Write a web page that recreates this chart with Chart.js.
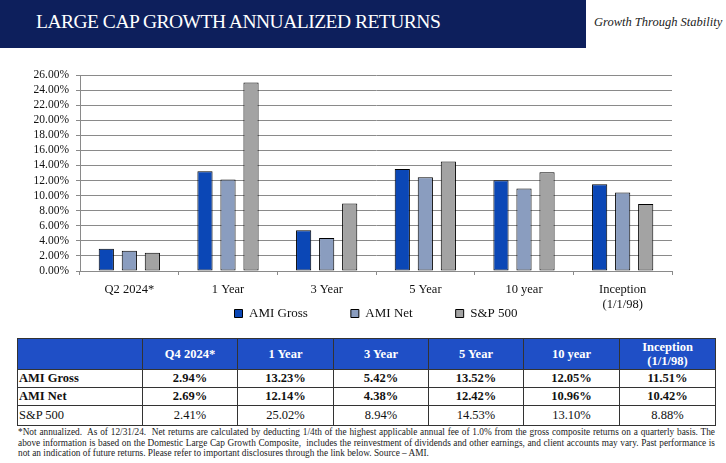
<!DOCTYPE html>
<html><head><meta charset="utf-8">
<script src="https://cdn.jsdelivr.net/npm/chart.js@4/dist/chart.umd.min.js"></script>
<style>
body{margin:0;width:726px;height:463px;background:#fff;position:relative;overflow:hidden;font-family:"Liberation Serif",serif;}
#hdr{position:absolute;left:0;top:0;width:586px;height:48px;background:#0d1f5c;}
#title{position:absolute;left:36px;top:11px;color:#fff;font-size:19.5px;letter-spacing:-0.5px;white-space:nowrap;}
#tag{position:absolute;left:594px;top:15px;color:#222;font-size:12.5px;font-style:italic;white-space:nowrap;}
#cw{position:absolute;left:0;top:60px;width:726px;height:270px;}
table{position:absolute;left:17px;top:338px;border-collapse:collapse;table-layout:fixed;width:698px;font-size:12.5px;color:#111;}
td,th{border:1px solid #333;padding:0;text-align:center;overflow:hidden;white-space:nowrap;}
th{background:#1f4fc6;color:#fff;font-weight:bold;height:30px;line-height:14px;}
td{height:17px;font-weight:bold;}
td.l{text-align:left;padding-left:1px;}
tr.sp td{font-weight:normal;height:19px;}
#foot{position:absolute;left:18px;top:427px;width:697px;font-size:9.3px;line-height:10.5px;color:#222;text-align:justify;}
</style></head><body>
<div id="hdr"><div id="title">LARGE CAP GROWTH ANNUALIZED RETURNS</div></div>
<div id="tag">Growth Through Stability</div>
<div id="cw"><canvas id="c"></canvas></div>
<table id="t"></table>
<div id="foot">*Not annualized.&nbsp; As of 12/31/24.&nbsp; Net returns are calculated by deducting 1/4th of the highest applicable annual fee of 1.0% from the gross composite returns on a quarterly basis. The above information is based on the Domestic Large Cap Growth Composite,&nbsp; includes the reinvestment of dividends and other earnings, and client accounts may vary. Past performance is not an indication of future returns. Please refer to important disclosures through the link below. Source – AMI.</div>
<script>
const categories = ["Q2 2024*", "1 Year", "3 Year", "5 Year", "10 year", ["Inception", "(1/1/98)"]];
const tableHeaders = ["Q4 2024*", "1 Year", "3 Year", "5 Year", "10 year", "Inception<br>(1/1/98)"];
const seriesNames = ["AMI Gross", "AMI Net", "S&P 500"];
const amiGross = [2.94, 13.23, 5.42, 13.52, 12.05, 11.51];
const amiNet = [2.69, 12.14, 4.38, 12.42, 10.96, 10.42];
const sp500 = [2.41, 25.02, 8.94, 14.53, 13.10, 8.88];
const colors = ["#0b47b6", "#8a9dbf", "#a3a3a3"];

// table
const colW = [125, 95, 96, 95, 95, 96, 96];
let h = '<colgroup>' + colW.map(w => '<col style="width:' + w + 'px">').join('') + '</colgroup>';
h += '<tr><th></th>';
tableHeaders.forEach(t => h += '<th>' + t + '</th>');
h += '</tr>';
[amiGross, amiNet, sp500].forEach((arr, r) => {
  h += '<tr' + (r === 2 ? ' class="sp"' : '') + '><td class="l">' + seriesNames[r] + '</td>';
  arr.forEach(v => h += '<td>' + v.toFixed(2) + '%</td>');
  h += '</tr>';
});
document.getElementById('t').innerHTML = h;

new Chart(document.getElementById('c'), {
  type: 'bar',
  data: {
    labels: categories,
    datasets: [amiGross, amiNet, sp500].map((d, i) => ({
      label: seriesNames[i], data: d, backgroundColor: colors[i],
      borderColor: '#000', borderWidth: 1, borderSkipped: false,
      categoryPercentage: 0.7, barPercentage: 0.66
    }))
  },
  options: {
    responsive: true, maintainAspectRatio: false, animation: false,
    layout: { padding: { left: 0, right: 54, top: 15, bottom: 0 } },
    plugins: {
      tooltip: { enabled: false },
      legend: {
        position: 'bottom', fullSize: false,
        labels: { boxWidth: 8, boxHeight: 8, padding: 4, color: '#111',
          font: { family: 'Liberation Serif', size: 13 },
          generateLabels: chart => {
            const items = Chart.defaults.plugins.legend.labels.generateLabels(chart);
            items.forEach((it, i) => { if (i < items.length - 1) it.text = it.text + '\u2002\u2002\u2002\u2002\u2002\u2002'; });
            return items;
          }
        }
      }
    },
    scales: {
      y: {
        min: 0, max: 26,
        ticks: { stepSize: 2, autoSkip: false, callback: v => v.toFixed(2) + '%', color: '#111',
          font: { family: 'Liberation Serif', size: 11.5 }, padding: 7 },
        grid: { color: '#8a8a8a', lineWidth: 1, tickLength: 4, drawTicks: true },
        border: { color: '#8a8a8a' },
        afterFit: s => { s.width = 80; }
      },
      x: {
        ticks: { color: '#111', font: { family: 'Liberation Serif', size: 12.5, lineHeight: 1.2 }, padding: 7, maxRotation: 0, autoSkip: false },
        grid: { display: true, drawOnChartArea: false, offset: true, color: '#8a8a8a', tickLength: 4 },
        border: { color: '#8a8a8a' },
        afterFit: s => { s.height = 32; s._computeLabelArea = () => undefined; }
      }
    }
  }
});
</script>
</body></html>
